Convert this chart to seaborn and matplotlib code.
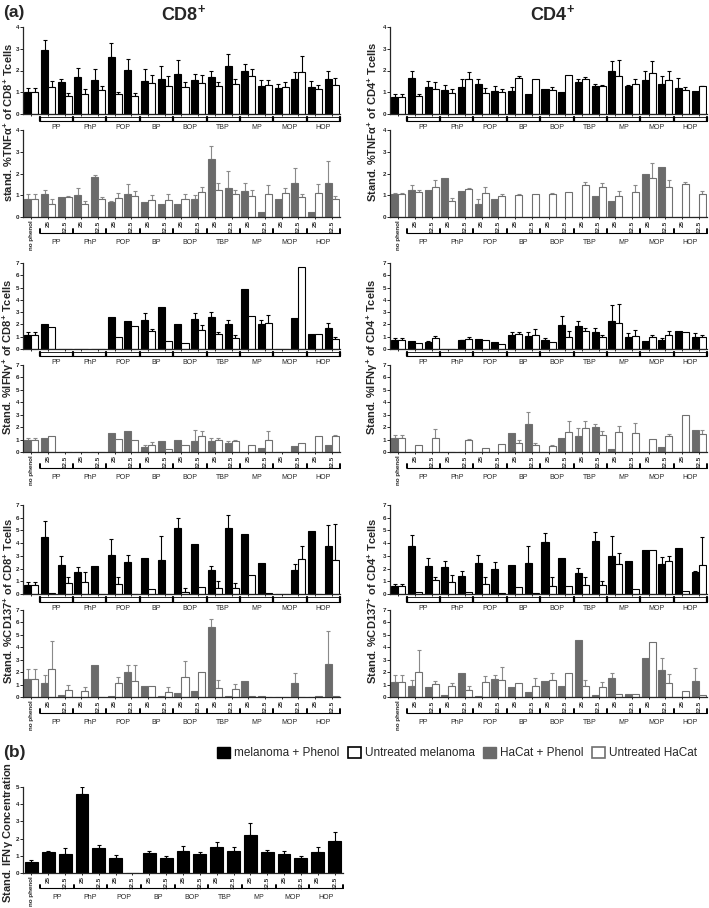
import numpy as np
import pandas as pd
import seaborn as sns
import matplotlib.pyplot as plt
import matplotlib.transforms as mtransforms
from matplotlib.patches import Patch

nan = np.nan

# categories
phenols = ["PP", "PhP", "POP", "BP", "BOP", "TBP", "MP", "MOP", "HOP"]
concs = ["25", "12.5"]
conditions = ["no phenol"] + [f"{p} {c}" for p in phenols for c in concs]
tick_labels = ["no phenol"] + concs * len(phenols)

# ---- CD8 TNFa ----
cd8_tnf_mel = [1.0, 2.95, 1.48, 1.68, 1.58, 2.6, 2.03, 1.52, 1.62, 1.82, 1.55, 1.72, 2.22, 2.0, 1.28, 1.18, 1.62, 1.25, 1.62]
cd8_tnf_mel_top = [1.2, 3.4, 1.62, 2.1, 2.05, 3.25, 2.55, 2.05, 2.22, 2.48, 1.85, 1.98, 2.75, 2.32, 1.55, 1.38, 1.92, 1.52, 2.0]
cd8_tnf_mel_ctrl = [1.0, 1.22, 0.85, 0.93, 1.12, 0.92, 0.85, 1.42, 1.28, 1.22, 1.42, 1.3, 1.4, 1.75, 1.35, 1.22, 1.95, 1.17, 1.35]
cd8_tnf_mel_ctrl_top = [1.2, 1.5, 0.97, 1.15, 1.3, 1.03, 0.97, 1.8, 1.75, 1.45, 1.8, 1.48, 1.62, 2.05, 1.58, 1.48, 2.65, 1.35, 1.65]

cd8_tnf_hac = [0.83, 1.05, 0.92, 1.03, 1.85, 0.68, 1.05, 0.7, 0.6, 0.62, 0.85, 2.65, 1.35, 1.2, 0.25, 0.82, 1.55, 0.22, 1.55]
cd8_tnf_hac_top = [1.05, 1.25, nan, 1.35, 1.95, 0.72, 1.52, nan, nan, nan, 1.02, 3.25, 2.1, 1.55, nan, nan, 2.25, nan, 2.58]
cd8_tnf_hac_ctrl = [0.83, 0.62, 0.93, 0.6, 0.82, 0.88, 0.98, 0.8, 0.8, 0.83, 1.15, 1.25, 1.05, 0.95, 1.05, 1.1, 0.9, 1.12, 0.82]
cd8_tnf_hac_ctrl_top = [1.05, 0.85, 0.97, 0.72, 0.92, 1.1, 1.2, 1.0, 1.05, 1.08, 1.38, 1.55, 1.25, 1.25, 1.48, 1.35, 1.05, 1.5, 0.97]

# ---- CD4 TNFa ----
cd4_tnf_mel = [0.78, 1.65, 1.25, 1.12, 1.25, 1.38, 1.07, 1.05, 0.9, 1.17, 1.0, 1.48, 1.3, 2.0, 1.3, 1.55, 1.38, 1.18, 1.05]
cd4_tnf_mel_top = [0.9, 2.0, 1.5, 1.32, 1.62, 1.6, 1.28, 1.25, nan, nan, nan, 1.62, 1.4, 2.42, 1.35, 2.0, 1.75, 1.65, nan]
cd4_tnf_mel_ctrl = [0.78, 0.82, 1.15, 0.95, 1.6, 0.97, 1.0, 1.67, 1.6, 1.12, 1.78, 1.6, 1.27, 1.75, 1.4, 1.88, 1.55, 1.12, 1.27]
cd4_tnf_mel_ctrl_top = [0.9, 0.92, 1.45, 1.15, 1.92, 1.2, 1.15, 1.75, nan, 1.23, nan, 1.68, 1.35, 2.5, 1.62, 2.45, 1.97, 1.25, 1.3]

cd4_tnf_hac = [1.05, 1.25, 1.22, 1.8, 1.2, 0.62, 0.85, nan, nan, nan, nan, nan, 0.98, 0.75, nan, 1.98, 2.3, nan, nan]
cd4_tnf_hac_top = [1.12, 1.48, nan, nan, nan, 0.85, nan, nan, nan, nan, nan, nan, nan, nan, nan, nan, nan, nan, nan]
cd4_tnf_hac_ctrl = [1.05, 1.15, 1.38, 0.75, 1.3, 1.1, 0.98, 1.02, 1.08, 1.05, 1.15, 1.45, 1.4, 0.95, 1.15, 1.8, 1.38, 1.5, 1.08]
cd4_tnf_hac_ctrl_top = [1.12, 1.25, 1.7, 0.88, 1.33, 1.38, 1.08, 1.05, nan, 1.12, nan, 1.6, 1.57, 1.2, 1.45, 2.48, 1.68, 1.62, 1.2]

# ---- CD8 IFNg ----
cd8_ifn_mel = [1.1, 2.0, nan, nan, nan, 2.6, 2.3, 2.4, 3.4, 2.0, 2.45, 2.6, 2.05, 4.87, 2.05, nan, 2.5, 1.25, 1.75]
cd8_ifn_mel_top = [1.35, nan, nan, nan, nan, nan, nan, 2.95, nan, nan, 2.95, 3.0, 2.4, nan, 2.35, nan, nan, nan, 2.15]
cd8_ifn_mel_ctrl = [1.1, 1.8, nan, nan, nan, 1.0, 1.85, 1.5, 0.65, 0.45, 1.55, 1.25, 0.9, 2.68, 2.15, nan, 6.68, 1.25, 0.8]
cd8_ifn_mel_ctrl_top = [1.35, nan, nan, nan, nan, nan, nan, 1.65, nan, nan, 1.95, 1.4, 1.15, nan, 2.75, nan, nan, nan, 1.0]

cd8_ifn_hac = [0.97, 1.15, nan, nan, nan, 1.5, 1.65, 0.42, 0.9, 1.0, 0.9, 0.85, 0.72, nan, 0.3, nan, 0.5, nan, 0.55]
cd8_ifn_hac_top = [1.1, nan, nan, nan, nan, nan, nan, 0.58, nan, nan, 1.75, 1.15, 0.92, nan, nan, nan, nan, nan, nan]
cd8_ifn_hac_ctrl = [0.97, 1.25, nan, nan, nan, 1.05, 1.0, 0.55, 0.28, 0.6, 1.25, 0.95, 0.85, 0.6, 1.0, nan, 0.75, 1.25, 1.25]
cd8_ifn_hac_ctrl_top = [1.1, nan, nan, nan, nan, nan, nan, 0.82, nan, nan, 1.65, 1.1, 0.95, nan, 1.65, nan, nan, nan, 1.35]

# ---- CD4 IFNg ----
cd4_ifn_mel = [0.7, 0.68, 0.58, nan, 0.7, 0.85, 0.6, 1.1, 1.08, 0.72, 1.95, 1.85, 1.35, 2.3, 1.0, 0.65, 0.75, 1.5, 1.0]
cd4_ifn_mel_top = [0.92, nan, 0.68, nan, 0.75, nan, nan, 1.35, 1.42, 0.9, 2.65, 2.25, 1.75, 3.6, 1.3, nan, 0.9, nan, 1.3]
cd4_ifn_mel_ctrl = [0.7, 0.5, 0.92, nan, 0.78, 0.72, 0.42, 1.2, 1.1, 0.6, 1.0, 1.45, 0.95, 2.1, 1.05, 0.95, 1.1, 1.42, 1.0]
cd4_ifn_mel_ctrl_top = [0.92, nan, 1.05, nan, 0.95, nan, nan, 1.42, 1.6, nan, 1.5, 1.75, 1.1, 3.65, 1.55, 1.1, 1.45, nan, 1.1]

cd4_ifn_hac = [1.15, nan, nan, nan, nan, nan, nan, 1.55, 2.25, nan, 1.1, 1.3, 2.0, 0.25, nan, nan, 0.42, nan, 1.8]
cd4_ifn_hac_top = [1.4, nan, nan, nan, nan, nan, nan, nan, 3.2, nan, nan, 1.95, 2.25, nan, nan, nan, nan, nan, nan]
cd4_ifn_hac_ctrl = [1.15, 0.55, 1.15, nan, 0.95, 0.35, 0.65, 0.7, 0.6, 0.5, 1.6, 1.9, 1.35, 1.6, 1.55, 1.05, 1.25, 2.95, 1.45]
cd4_ifn_hac_ctrl_top = [1.4, nan, 1.85, nan, 1.05, nan, nan, 1.0, 0.75, 0.55, 2.5, 2.5, 1.65, 2.08, 2.35, nan, 1.45, nan, 1.8]

# ---- CD8 CD137 ----
cd8_137_mel = [0.7, 4.45, 2.3, 1.7, 2.2, 3.05, 2.55, 2.8, 2.65, 5.2, 3.9, 1.85, 5.2, 4.75, 2.4, nan, 1.9, 4.95, 3.75]
cd8_137_mel_top = [0.97, 5.75, 3.0, 2.1, nan, 4.35, 3.05, nan, 4.55, 5.95, nan, 2.2, 6.2, nan, nan, nan, 2.35, nan, 5.45]
cd8_137_mel_ctrl = [0.7, 0.05, 0.85, 0.95, nan, 0.75, nan, 0.4, nan, 0.18, 0.55, 0.5, 0.5, 1.48, 0.05, nan, 2.75, nan, 2.7]
cd8_137_mel_ctrl_top = [0.97, nan, 1.3, 1.7, nan, 1.32, nan, nan, nan, 0.45, nan, 1.05, 0.85, nan, nan, nan, 3.75, nan, 5.5]

cd8_137_hac = [1.45, 1.1, 0.15, nan, 2.6, 0.05, 2.0, 0.88, 0.05, 0.35, 0.5, 5.65, 0.1, 1.25, 0.05, nan, 1.1, nan, 2.65]
cd8_137_hac_top = [2.25, 1.75, nan, nan, nan, nan, 2.6, nan, nan, nan, nan, 6.3, nan, nan, nan, nan, 1.9, nan, 5.35]
cd8_137_hac_ctrl = [1.45, 2.25, 0.55, 0.45, nan, 1.15, 1.25, 0.85, 0.4, 1.6, 2.0, 0.7, 0.62, 0.1, 0.03, nan, 0.03, 0.05, 0.05]
cd8_137_hac_ctrl_top = [2.25, 4.5, 1.0, 0.8, nan, 1.6, 2.55, nan, 0.78, 2.9, nan, 1.4, 1.05, nan, nan, nan, nan, nan, nan]

# ---- CD4 CD137 ----
cd4_137_mel = [0.62, 3.8, 2.2, 2.1, 1.38, 2.45, 1.95, 2.28, 2.45, 4.1, 2.85, 1.65, 4.2, 2.95, 2.6, 3.45, 2.35, 3.6, 1.75]
cd4_137_mel_top = [0.78, 4.65, 2.85, 2.6, 1.78, 3.05, 2.5, nan, 3.75, 4.8, nan, 2.05, 4.9, 4.6, nan, nan, 2.9, nan, 1.8]
cd4_137_mel_ctrl = [0.62, 0.12, 1.08, 0.97, 0.15, 0.75, 0.05, 0.55, 0.1, 0.65, 0.65, 0.72, 0.7, 2.35, 0.42, 3.45, 2.6, 0.2, 2.25]
cd4_137_mel_ctrl_top = [0.78, nan, 1.3, 1.5, nan, 1.3, nan, nan, nan, 1.3, nan, 1.3, 1.05, 3.2, nan, nan, 3.0, nan, 4.5]

cd4_137_hac = [1.2, 0.88, 0.82, 0.2, 1.9, 0.12, 1.45, 0.78, 0.4, 1.25, 0.85, 4.6, 0.2, 1.52, 0.25, 3.1, 2.15, nan, 1.3]
cd4_137_hac_top = [1.8, 1.35, nan, nan, nan, nan, 1.75, nan, nan, nan, nan, nan, nan, 1.95, nan, nan, 3.15, nan, 2.3]
cd4_137_hac_ctrl = [1.2, 2.0, 1.05, 0.88, 0.55, 1.2, 1.35, 1.1, 0.85, 1.4, 1.95, 0.92, 0.8, 0.25, 0.25, 4.4, 1.15, 0.45, 0.15]
cd4_137_hac_ctrl_top = [1.8, 3.75, 1.3, 1.1, 0.9, 1.7, 2.45, nan, 1.5, 1.9, nan, 1.38, 1.2, nan, nan, nan, 1.85, nan, nan]

# ---- (b) IFNg concentration ----
ifng_conc = [0.65, 1.2, 1.1, 4.62, 1.45, 0.88, nan, 1.15, 0.9, 1.28, 1.12, 1.5, 1.3, 2.22, 1.22, 1.12, 0.85, 1.25, 1.85]
ifng_conc_top = [0.75, 1.28, 1.45, 5.0, 1.6, 1.07, nan, 1.27, 0.98, 1.55, 1.22, 1.78, 1.5, 2.88, 1.33, 1.3, 0.98, 1.52, 2.4]

BLACK = "#000000"
GREY = "#6b6b6b"
GREY_EDGE = "#707070"

sns.set_theme(style="ticks")
plt.rcParams["font.family"] = ["Liberation Sans", "DejaVu Sans"]
plt.rcParams["mathtext.default"] = "regular"
plt.rcParams["axes.linewidth"] = 0.9

fig = plt.figure(figsize=(7.09, 9.08), dpi=100)
W, H = 709.0, 908.0


def make_ax(x0, x1, ytop, ybot):
    return fig.add_axes([x0 / W, 1 - ybot / H, (x1 - x0) / W, (ybot - ytop) / H])


def style_axis(ax, ymax):
    ax.set_xlim(-0.5, len(conditions) - 0.5)
    ax.set_ylim(0, ymax)
    ax.set_yticks(range(ymax + 1))
    ax.tick_params(axis="y", labelsize=4.5, length=2, width=0.7, pad=0.5)
    ax.tick_params(axis="x", length=1.5, width=0.7, pad=1)
    for lab in ax.get_yticklabels():
        lab.set_fontweight("bold")
    ax.set_xlabel("")
    ax.set_ylabel("")
    sns.despine(ax=ax)


def add_errors(ax, tops_by_side, color, single=False):
    for p in ax.patches:
        xc = p.get_x() + p.get_width() / 2
        i = int(round(xc))
        if single:
            side = 0
        else:
            side = 0 if xc < i else 1
        top = tops_by_side[side][i]
        h = p.get_height()
        if np.isnan(top) or top <= h:
            continue
        ax.errorbar(xc, h, yerr=[[0], [top - h]], fmt="none", ecolor=color,
                    elinewidth=0.8, capsize=1.4, capthick=0.8, zorder=1)


def melanoma_groups(ax):
    tr = mtransforms.blended_transform_factory(ax.transData, ax.transAxes)
    x0, x1 = 0.5, len(conditions) - 0.5
    ax.plot([x0, x1], [-0.035, -0.035], color="black", lw=0.6, transform=tr, clip_on=False)
    ax.plot([x0, x1], [-0.085, -0.085], color="black", lw=0.8, transform=tr, clip_on=False)
    for k in range(len(phenols) + 1):
        xb = x0 + 2 * k
        ax.plot([xb, xb], [-0.035, -0.085], color="black", lw=1.6, transform=tr, clip_on=False)
    for k, name in enumerate(phenols):
        ax.text(1.5 + 2 * k, -0.16, name, transform=tr, ha="center", va="center", fontsize=5)


def hacat_groups(ax):
    ax.set_xticks(range(len(conditions)))
    ax.set_xticklabels(tick_labels, rotation=90, fontsize=4.5, fontweight="bold")
    tr = mtransforms.blended_transform_factory(ax.transData, ax.transAxes)
    x0, x1 = 0.5, len(conditions) - 0.5
    ax.plot([x0, x1], [-0.18, -0.18], color="black", lw=0.8, transform=tr, clip_on=False)
    for k in range(len(phenols) + 1):
        xb = x0 + 2 * k
        ax.plot([xb, xb], [-0.18, -0.14], color="black", lw=1.4, transform=tr, clip_on=False)
    for k, name in enumerate(phenols):
        ax.text(1.5 + 2 * k, -0.29, name, transform=tr, ha="center", va="center", fontsize=5)


def pair_panel(ax, trt, trt_top, ctrl, ctrl_top, ymax, cells):
    n = len(conditions)
    df = pd.DataFrame({
        "condition": conditions * 2,
        "value": list(trt) + list(ctrl),
        "group": ["trt"] * n + ["ctrl"] * n,
    })
    df["value"] = df["value"].fillna(0)
    face = BLACK if cells == "mel" else GREY
    edge = BLACK if cells == "mel" else GREY_EDGE
    sns.barplot(data=df, x="condition", y="value", hue="group", order=conditions,
                hue_order=["trt", "ctrl"], palette={"trt": face, "ctrl": "white"},
                width=0.84, errorbar=None, legend=False, ax=ax, linewidth=0.8)
    for p in ax.patches:
        p.set_edgecolor(edge)
        p.set_zorder(2)
    add_errors(ax, [trt_top, ctrl_top], BLACK if cells == "mel" else "#8a8a8a")
    style_axis(ax, ymax)
    if cells == "mel":
        ax.set_xticks(range(len(conditions)))
        ax.set_xticklabels([])
        melanoma_groups(ax)
    else:
        hacat_groups(ax)


# column / row geometry in pixels
cols = {"cd8": (23, 340), "cd4": (390, 707)}
rows = {
    "tnf_mel": (27, 114), "tnf_hac": (130, 217),
    "ifn_mel": (263, 349), "ifn_hac": (365, 452),
    "137_mel": (505, 594), "137_hac": (610, 697),
}

panels = [
    ("cd8", "tnf_mel", cd8_tnf_mel, cd8_tnf_mel_top, cd8_tnf_mel_ctrl, cd8_tnf_mel_ctrl_top, 4, "mel"),
    ("cd8", "tnf_hac", cd8_tnf_hac, cd8_tnf_hac_top, cd8_tnf_hac_ctrl, cd8_tnf_hac_ctrl_top, 4, "hac"),
    ("cd4", "tnf_mel", cd4_tnf_mel, cd4_tnf_mel_top, cd4_tnf_mel_ctrl, cd4_tnf_mel_ctrl_top, 4, "mel"),
    ("cd4", "tnf_hac", cd4_tnf_hac, cd4_tnf_hac_top, cd4_tnf_hac_ctrl, cd4_tnf_hac_ctrl_top, 4, "hac"),
    ("cd8", "ifn_mel", cd8_ifn_mel, cd8_ifn_mel_top, cd8_ifn_mel_ctrl, cd8_ifn_mel_ctrl_top, 7, "mel"),
    ("cd8", "ifn_hac", cd8_ifn_hac, cd8_ifn_hac_top, cd8_ifn_hac_ctrl, cd8_ifn_hac_ctrl_top, 7, "hac"),
    ("cd4", "ifn_mel", cd4_ifn_mel, cd4_ifn_mel_top, cd4_ifn_mel_ctrl, cd4_ifn_mel_ctrl_top, 7, "mel"),
    ("cd4", "ifn_hac", cd4_ifn_hac, cd4_ifn_hac_top, cd4_ifn_hac_ctrl, cd4_ifn_hac_ctrl_top, 7, "hac"),
    ("cd8", "137_mel", cd8_137_mel, cd8_137_mel_top, cd8_137_mel_ctrl, cd8_137_mel_ctrl_top, 7, "mel"),
    ("cd8", "137_hac", cd8_137_hac, cd8_137_hac_top, cd8_137_hac_ctrl, cd8_137_hac_ctrl_top, 7, "hac"),
    ("cd4", "137_mel", cd4_137_mel, cd4_137_mel_top, cd4_137_mel_ctrl, cd4_137_mel_ctrl_top, 7, "mel"),
    ("cd4", "137_hac", cd4_137_hac, cd4_137_hac_top, cd4_137_hac_ctrl, cd4_137_hac_ctrl_top, 7, "hac"),
]

for col, row, trt, trt_top, ctrl, ctrl_top, ymax, cells in panels:
    x0, x1 = cols[col]
    yt, yb = rows[row]
    ax = make_ax(x0, x1, yt, yb)
    pair_panel(ax, trt, trt_top, ctrl, ctrl_top, ymax, cells)

# panel (b)
axb = make_ax(23, 343, 787, 873)
sns.barplot(x=conditions, y=[0 if np.isnan(v) else v for v in ifng_conc], order=conditions,
            color=BLACK, width=0.76, errorbar=None, ax=axb, linewidth=0.8, edgecolor=BLACK)
add_errors(axb, [ifng_conc_top], BLACK, single=True)
style_axis(axb, 5)
hacat_groups(axb)

# y labels
ylab_kw = dict(rotation=90, ha="center", va="center", fontsize=8, fontweight="bold")
fig.text(8 / W, 1 - 122 / H, r"stand. %TNF$\alpha^{+}$ of CD8$^{+}$ Tcells", **ylab_kw)
fig.text(8 / W, 1 - 357 / H, r"Stand. %IFN$\gamma^{+}$ of CD8$^{+}$ Tcells", **ylab_kw)
fig.text(8 / W, 1 - 601 / H, r"Stand. %CD137$^{+}$ of CD8$^{+}$ Tcells", **ylab_kw)
fig.text(372 / W, 1 - 122 / H, r"Stand. %TNF$\alpha^{+}$ of CD4$^{+}$ Tcells", **ylab_kw)
fig.text(372 / W, 1 - 357 / H, r"Stand. %IFN$\gamma^{+}$ of CD4$^{+}$ Tcells", **ylab_kw)
fig.text(372 / W, 1 - 601 / H, r"Stand. %CD137$^{+}$ of CD4$^{+}$ Tcells", **ylab_kw)
fig.text(8 / W, 1 - 832 / H, r"Stand. IFN$\gamma$ Concentration", **ylab_kw)

# titles and panel letters
fig.text(184 / W, 1 - 14 / H, r"CD8$^{+}$", ha="center", va="center", fontsize=13, fontweight="bold")
fig.text(553 / W, 1 - 14 / H, r"CD4$^{+}$", ha="center", va="center", fontsize=13, fontweight="bold")
fig.text(3 / W, 1 - 13 / H, "(a)", ha="left", va="center", fontsize=12.5, fontweight="bold")
fig.text(3 / W, 1 - 753 / H, "(b)", ha="left", va="center", fontsize=12.5, fontweight="bold")

# legend
handles = [
    Patch(facecolor=BLACK, edgecolor=BLACK),
    Patch(facecolor="white", edgecolor=BLACK, linewidth=1.2),
    Patch(facecolor=GREY, edgecolor=GREY),
    Patch(facecolor="white", edgecolor=GREY_EDGE, linewidth=1.2),
]
labels = ["melanoma + Phenol", "Untreated melanoma", "HaCat + Phenol", "Untreated HaCat"]
fig.legend(handles, labels, loc="center", bbox_to_anchor=(457 / W, 1 - 753 / H), ncol=4,
           frameon=False, fontsize=8.5, handlelength=1.1, handleheight=1.1,
           columnspacing=0.7, handletextpad=0.35, borderpad=0.1)

fig.savefig("out.png", dpi=100)
